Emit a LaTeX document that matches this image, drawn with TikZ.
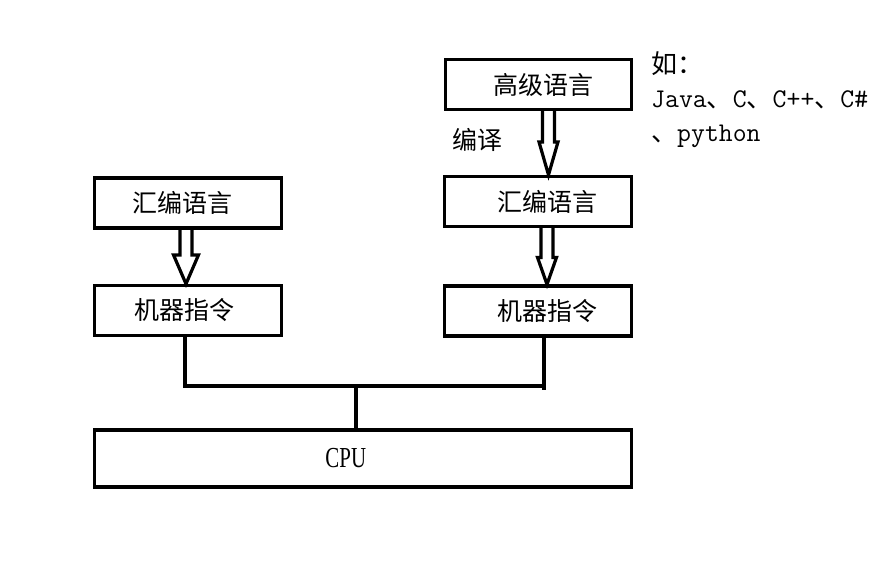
\documentclass[tikz,border=0pt]{standalone}
\usepackage{fontspec}
\usetikzlibrary{calc}
\setmainfont{Liberation Serif}
\newfontfamily\cjk{Noto Sans CJK SC}
\newfontfamily\latmono{Latin Modern Mono}
\newfontfamily\cpufont[FakeStretch=0.72]{Liberation Serif}
\newcommand\hollowarrow[5]{% from, to, x-coordinate name, head half width, head length
  \draw[hollow] ($(#1.south -| #3)+(-6,0)$) -- ($(#2.north -| #3)+(-6,-#5)$)
    -- ($(#2.north -| #3)+(-#4,-#5)$) -- (#2.north -| #3)
    -- ($(#2.north -| #3)+(#4,-#5)$) -- ($(#2.north -| #3)+(6,-#5)$)
    -- ($(#1.south -| #3)+(6,0)$);}
\begin{document}
\begin{tikzpicture}[x=1pt,y=-1pt,
  box/.style={draw, line width=3.2pt, minimum width=187pt, minimum height=50pt,
    inner sep=0pt, font=\cjk\fontsize{25}{30}\selectfont},
  hollow/.style={draw, line width=3.2pt, line join=miter},
  conn/.style={draw, line width=3.2pt},
  lbl/.style={inner sep=0pt, font=\cjk\fontsize{25}{30}\selectfont}]
\fill[white] (0,0) rectangle (891,562);
\useasboundingbox (0,0) rectangle (891,562);
% boxes
\node[box, minimum width=186pt] (hl) at (538.5,84.5) {\raisebox{-3pt}{\hspace*{10pt}高级语言}};
\node[box] (ra) at (538,201.5) {\raisebox{-1pt}{\hspace*{18pt}汇编语言}};
\node[box] (rm) at (538,311) {\raisebox{-2pt}{\hspace*{18pt}机器指令}};
\node[box] (la) at (188,203) {汇编语言\hspace*{12pt}};
\node[box] (lm) at (188,310.5) {机器指令\hspace*{8pt}};
\node[box, minimum width=537pt, minimum height=57pt,
  font=\cpufont\fontsize{29}{30}\selectfont] (cpu) at (362.8,458.5) {CPU\hspace*{34pt}};
% labels
\node[lbl] (bianyi) at (477,140) {编译};
\node[inner sep=0pt, anchor=north west, align=left,
  font=\cjk\fontsize{26}{34}\selectfont] (ex) at (651,51)
  {如：\\{\latmono\fontsize{27}{34}\selectfont Java}、{\latmono\fontsize{27}{34}\selectfont C}、{\latmono\fontsize{27}{34}\selectfont C++}、{\latmono\fontsize{27}{34}\selectfont C\#}\\、{\latmono\fontsize{27}{34}\selectfont python}};
% hollow arrows
\coordinate (axl) at (186,0);
\coordinate (axr1) at (548.5,0);
\coordinate (axr2) at (547,0);
\hollowarrow{la}{lm}{axl}{12.5}{29}
\hollowarrow{hl}{ra}{axr1}{9.5}{33}
\hollowarrow{ra}{rm}{axr2}{9.5}{27}
% connectors to CPU
\coordinate (bl) at (185,386);
\coordinate (br) at (544,386);
\coordinate (bm) at (356,386);
\draw[conn] (lm.south -| bl) -- (bl) -- (br);
\draw[conn] (rm.south -| br) -- ($(br)+(0,4)$);
\draw[conn] (bm) -- (cpu.north -| bm);
\end{tikzpicture}
\end{document}
